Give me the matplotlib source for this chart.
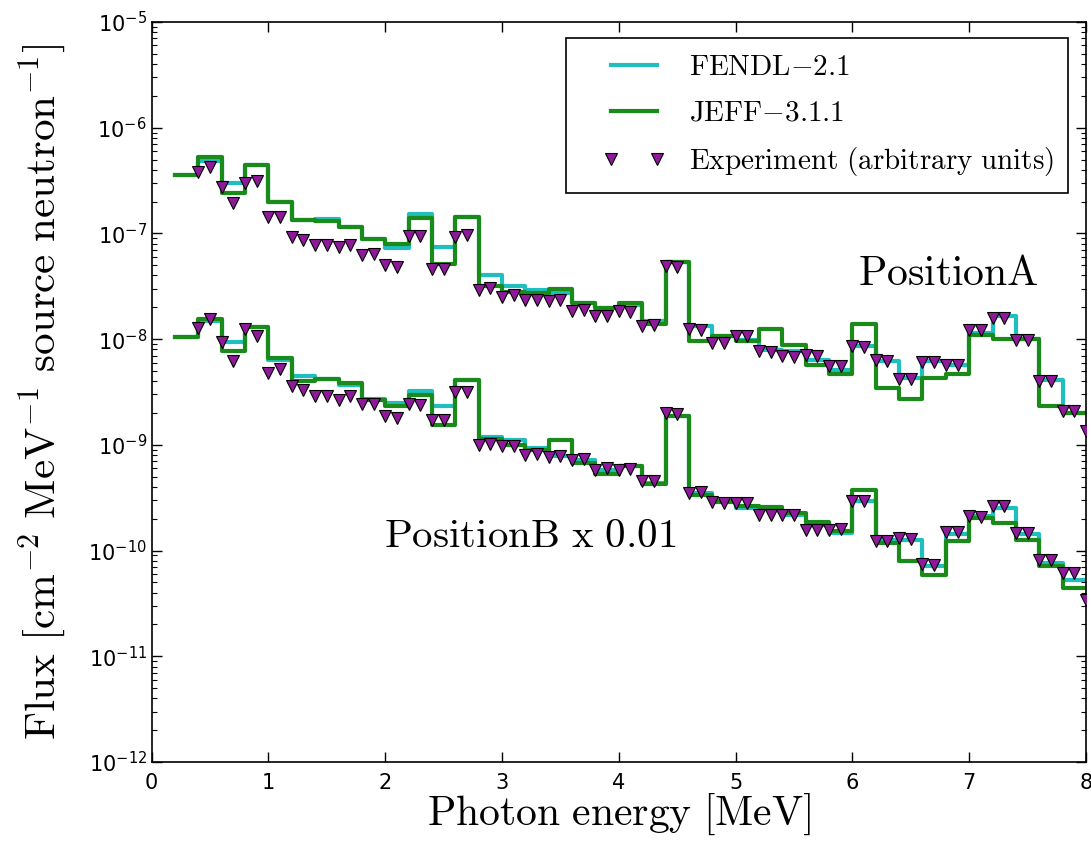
import numpy as np
import matplotlib
matplotlib.use('Agg')
import matplotlib.pyplot as plt
from matplotlib.lines import Line2D
from matplotlib.legend_handler import HandlerLine2D

plt.rcParams['mathtext.fontset'] = 'cm'
plt.rcParams['font.family'] = 'DejaVu Sans'

# bin edges of the calculated spectra (MeV), 0.2 MeV wide
edges = np.round(np.arange(0.2, 8.0001, 0.2), 1)
# experimental energies (MeV), every 0.1 MeV
e_exp = np.round(np.arange(0.4, 8.0001, 0.1), 1)

# Position A, calculated flux per bin
fendl_a = [3.58e-7, 4.89e-7, 2.99e-7, 4.45e-7, 1.98e-7, 1.35e-7, 1.37e-7, 1.16e-7,
           8.9e-8, 7.31e-8, 1.53e-7, 7.43e-8, 1.44e-7, 4.06e-8, 3.20e-8, 2.89e-8,
           2.75e-8, 2.22e-8, 1.97e-8, 2.11e-8, 1.47e-8, 5.31e-8, 1.32e-8, 1.06e-8,
           9.87e-9, 7.94e-9, 7.65e-9, 6.39e-9, 5.14e-9, 8.53e-9, 6.15e-9, 4.29e-9,
           6.15e-9, 5.73e-9, 1.14e-8, 1.66e-8, 1.00e-8, 4.13e-9, 2.00e-9]
jeff_a = [3.58e-7, 5.33e-7, 2.40e-7, 4.45e-7, 1.98e-7, 1.35e-7, 1.31e-7, 1.16e-7,
          8.9e-8, 7.97e-8, 1.41e-7, 5.16e-8, 1.44e-7, 3.15e-8, 2.82e-8, 2.73e-8,
          2.99e-8, 2.22e-8, 1.97e-8, 2.22e-8, 1.40e-8, 5.31e-8, 9.51e-9, 1.06e-8,
          9.51e-9, 1.25e-8, 8.85e-9, 5.73e-9, 4.68e-9, 1.40e-8, 3.45e-9, 2.72e-9,
          4.29e-9, 4.68e-9, 1.10e-8, 1.00e-8, 1.00e-8, 2.31e-9, 2.00e-9]
exp_a = [3.79e-7, 4.23e-7, 2.72e-7, 1.93e-7, 2.99e-7, 3.16e-7, 1.44e-7, 1.44e-7, 9.23e-8, 8.57e-8,
         7.69e-8, 7.69e-8, 7.43e-8, 7.80e-8, 6.28e-8, 6.41e-8, 5.05e-8, 4.76e-8, 9.49e-8, 9.49e-8,
         4.60e-8, 4.60e-8, 9.35e-8, 9.70e-8, 2.89e-8, 3.04e-8, 2.53e-8, 2.63e-8, 2.32e-8, 2.32e-8,
         2.27e-8, 2.32e-8, 1.83e-8, 1.90e-8, 1.64e-8, 1.64e-8, 1.83e-8, 1.79e-8, 1.32e-8, 1.37e-8,
         4.94e-8, 4.86e-8, 1.25e-8, 1.23e-8, 9.19e-9, 9.19e-9, 1.06e-8, 1.06e-8, 7.65e-9, 7.48e-9,
         6.87e-9, 6.78e-9, 7.13e-9, 6.97e-9, 5.61e-9, 5.61e-9, 8.53e-9, 8.38e-9, 6.39e-9, 6.15e-9,
         4.20e-9, 4.20e-9, 6.03e-9, 6.03e-9, 5.73e-9, 5.73e-9, 1.23e-8, 1.23e-8, 1.58e-8, 1.58e-8,
         9.72e-9, 9.72e-9, 3.98e-9, 3.98e-9, 2.07e-9, 2.07e-9, 1.34e-9]

# Position B, unscaled (plotted x 0.01)
scale_b = 0.01
fendl_b = [1.04e-6, 1.50e-6, 9.31e-7, 1.30e-6, 6.39e-7, 4.51e-7, 4.23e-7, 3.71e-7,
           2.73e-7, 2.49e-7, 3.21e-7, 2.31e-7, 4.07e-7, 1.19e-7, 1.12e-7, 9.35e-8,
           7.91e-8, 7.24e-8, 5.83e-8, 6.36e-8, 4.36e-8, 1.86e-7, 3.51e-8, 2.92e-8,
           2.53e-8, 2.53e-8, 2.19e-8, 1.76e-8, 1.47e-8, 2.92e-8, 1.27e-8, 1.27e-8,
           7.11e-9, 1.42e-8, 2.11e-8, 2.53e-8, 1.42e-8, 7.65e-9, 5.32e-9]
jeff_b = [1.04e-6, 1.56e-6, 7.65e-7, 1.30e-6, 6.63e-7, 3.98e-7, 4.23e-7, 3.85e-7,
          2.67e-7, 2.35e-7, 2.98e-7, 1.55e-7, 4.07e-7, 1.14e-7, 1.00e-7, 9.01e-8,
          1.10e-7, 6.75e-8, 5.35e-8, 6.36e-8, 4.27e-8, 1.86e-7, 3.38e-8, 2.86e-8,
          2.62e-8, 2.59e-8, 2.27e-8, 1.85e-8, 1.52e-8, 3.77e-8, 1.18e-8, 7.92e-9,
          5.93e-9, 1.22e-8, 2.04e-8, 1.83e-8, 1.27e-8, 7.11e-9, 4.44e-9]
exp_b = [1.27e-6, 1.55e-6, 9.31e-7, 6.15e-7, 1.25e-6, 1.08e-6, 4.78e-7, 5.21e-7, 3.63e-7, 3.27e-7,
         2.87e-7, 2.87e-7, 2.64e-7, 2.92e-7, 2.45e-7, 2.45e-7, 1.86e-7, 1.81e-7, 2.45e-7, 2.38e-7,
         1.73e-7, 1.73e-7, 3.13e-7, 3.13e-7, 1.00e-7, 1.02e-7, 9.68e-8, 9.83e-8, 8.08e-8, 8.26e-8,
         7.69e-8, 7.91e-8, 7.24e-8, 7.36e-8, 5.83e-8, 6.05e-8, 5.83e-8, 5.92e-8, 4.52e-8, 4.52e-8,
         2.00e-7, 1.97e-7, 3.51e-8, 3.56e-8, 2.86e-8, 2.82e-8, 2.82e-8, 2.82e-8, 2.19e-8, 2.19e-8,
         2.19e-8, 2.19e-8, 1.58e-8, 1.58e-8, 1.58e-8, 1.60e-8, 2.92e-8, 2.92e-8, 1.22e-8, 1.22e-8,
         1.32e-8, 1.29e-8, 7.53e-9, 7.38e-9, 1.49e-8, 1.49e-8, 2.11e-8, 2.08e-8, 2.66e-8, 2.66e-8,
         1.47e-8, 1.47e-8, 8.22e-9, 8.22e-9, 6.07e-9, 6.07e-9, 3.44e-9]

C_FENDL = '#1fbfbf'
C_JEFF = '#1a8a1a'
C_EXP = '#8e1a9a'


def stairs(ax, vals, **kw):
    """Histogram-like step line over the bin edges."""
    y = np.append(vals, vals[-1])
    return ax.step(edges, y, where='post', **kw)


fig = plt.figure(figsize=(10.91, 8.42), dpi=100)
ax = fig.add_axes([0.139, 0.095, 0.8564, 0.8789])

lw = 3
for fa, ja, ex, k in [(fendl_a, jeff_a, exp_a, 1.0),
                      (fendl_b, jeff_b, exp_b, scale_b)]:
    first = k == 1.0
    stairs(ax, np.array(fa) * k, color=C_FENDL, lw=lw,
           label=r'$\mathrm{FENDL{-}2.1}$' if first else None)
    stairs(ax, np.array(ja) * k, color=C_JEFF, lw=lw,
           label=r'$\mathrm{JEFF{-}3.1.1}$' if first else None)
    ax.plot(e_exp, np.array(ex) * k, ls='none', marker='v', ms=9,
            mfc=C_EXP, mec='black', mew=0.8, zorder=5,
            label=r'$\mathrm{Experiment\ (arbitrary\ units)}$' if first else None)

ax.set_yscale('log')
ax.set_xlim(0, 8)
ax.set_ylim(1e-12, 1e-5)
ax.set_xticks(range(0, 9))
ax.tick_params(which='both', direction='in', top=True, right=True, labelsize=15)
ax.tick_params(which='major', length=7, width=1)
ax.tick_params(which='minor', length=3.5, width=0.8)
ax.tick_params(axis='x', pad=8)
for s in ax.spines.values():
    s.set_linewidth(1.2)

ax.set_xlabel(r'$\mathrm{Photon\ energy\ [MeV]}$', fontsize=30, labelpad=-1)
ax.set_ylabel(r'$\mathrm{Flux\ [cm^{-2}\ MeV^{-1}\ source\ neutron^{-1}]}$',
              fontsize=31, labelpad=14)

ax.text(6.05, 3.25e-8, r'$\mathrm{PositionA}$', fontsize=30, va='baseline')
ax.text(1.99, 1.08e-10, r'$\mathrm{PositionB\ x\ 0.01}$', fontsize=29.5, va='baseline')

leg = ax.legend(loc='upper right', bbox_to_anchor=(0.981, 0.978), borderaxespad=0,
                numpoints=2, fontsize=21, fancybox=False, framealpha=1,
                handlelength=3.66, handletextpad=0.05, borderpad=0.5, labelspacing=0.62,
                handler_map={Line2D: HandlerLine2D(marker_pad=1.04)})
leg.get_frame().set_edgecolor('black')
leg.get_frame().set_linewidth(1.2)

fig.savefig('out.png', dpi=100)
